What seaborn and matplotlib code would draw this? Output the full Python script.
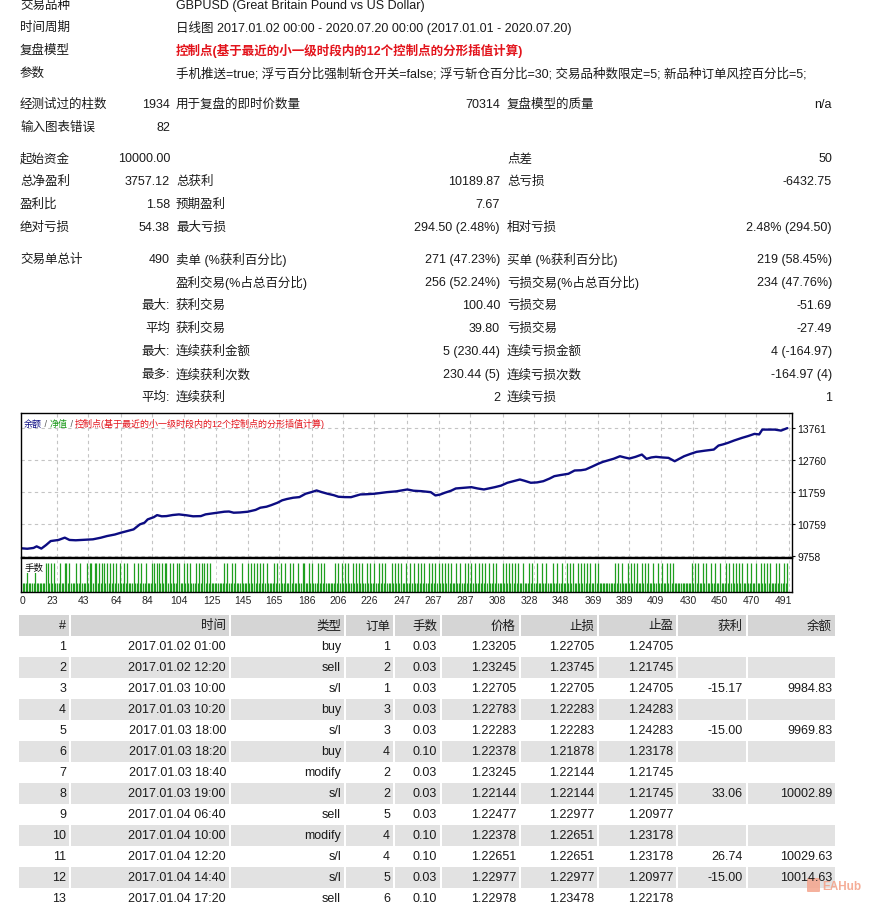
import matplotlib
matplotlib.use("Agg")
import matplotlib.pyplot as plt
import matplotlib.transforms as mtransforms
from matplotlib.patches import Rectangle, FancyBboxPatch
import seaborn as sns

# ---- report header ----
info_labels = ['交易品种', '时间周期', '复盘模型', '参数']
info_values = [
    'GBPUSD (Great Britain Pound vs US Dollar)',
    '日线图 2017.01.02 00:00 - 2020.07.20 00:00 (2017.01.01 - 2020.07.20)',
    '控制点(基于最近的小一级时段内的12个控制点的分形插值计算)',
    '手机推送=true; 浮亏百分比强制斩仓开关=false; 浮亏斩仓百分比=30; 交易品种数限定=5; 新品种订单风控百分比=5;',
]

# ---- summary statistics (label, value, label, value, label, value) ----
stat_rows = [
    ('经测试过的柱数', '1934', '用于复盘的即时价数量', '70314', '复盘模型的质量', 'n/a'),
    ('输入图表错误', '82', '', '', '', ''),
    ('起始资金', '10000.00', '', '', '点差', '50'),
    ('总净盈利', '3757.12', '总获利', '10189.87', '总亏损', '-6432.75'),
    ('盈利比', '1.58', '预期盈利', '7.67', '', ''),
    ('绝对亏损', '54.38', '最大亏损', '294.50 (2.48%)', '相对亏损', '2.48% (294.50)'),
    ('交易单总计', '490', '卖单 (%获利百分比)', '271 (47.23%)', '买单 (%获利百分比)', '219 (58.45%)'),
    ('', '', '盈利交易(%占总百分比)', '256 (52.24%)', '亏损交易(%占总百分比)', '234 (47.76%)'),
    ('', '最大:', '获利交易', '100.40', '亏损交易', '-51.69'),
    ('', '平均', '获利交易', '39.80', '亏损交易', '-27.49'),
    ('', '最大:', '连续获利金额', '5 (230.44)', '连续亏损金额', '4 (-164.97)'),
    ('', '最多:', '连续获利次数', '230.44 (5)', '连续亏损次数', '-164.97 (4)'),
    ('', '平均:', '连续获利', '2', '连续亏损', '1'),
]

# ---- balance curve (trade number, balance) ----
trade_no = [0, 4, 8, 10, 13, 16, 19, 24, 28, 31, 35, 40, 46, 51, 55, 60, 64, 68,
            72, 76, 79, 81, 85, 87, 90, 93, 97, 101, 106, 110, 115, 118, 121, 125,
            130, 133, 136, 140, 145, 150, 153, 157, 160, 164, 167, 170, 174, 178,
            182, 186, 189, 192, 196, 200, 203, 207, 211, 214, 217, 221, 226, 230,
            234, 240, 247, 251, 256, 262, 265, 268, 271, 275, 278, 283, 288, 292,
            296, 299, 303, 307, 311, 315, 319, 322, 326, 330, 334, 338, 341, 345,
            350, 354, 358, 361, 365, 369, 372, 375, 379, 383, 386, 389, 393, 397,
            400, 403, 406, 410, 414, 418, 421, 424, 428, 432, 437, 443, 446, 449,
            452, 456, 461, 465, 469, 472, 474, 478, 482, 486, 490]
balance = [10000, 9985, 10010, 10060, 9990, 10100, 10226, 10260, 10332, 10260,
           10250, 10265, 10280, 10330, 10382, 10430, 10488, 10540, 10591, 10747,
           10800, 10903, 10975, 11037, 11000, 11006, 11040, 11059, 11030, 11000,
           11006, 11060, 11081, 11110, 11143, 11150, 11112, 11120, 11143, 11200,
           11268, 11300, 11349, 11424, 11500, 11540, 11580, 11600, 11705, 11760,
           11808, 11760, 11705, 11660, 11611, 11600, 11598, 11640, 11683, 11690,
           11705, 11730, 11755, 11780, 11839, 11800, 11786, 11755, 11652, 11680,
           11736, 11800, 11870, 11890, 11911, 11870, 11839, 11870, 11911, 11960,
           12048, 12100, 12151, 12110, 12048, 12060, 12098, 12180, 12254, 12290,
           12329, 12432, 12440, 12463, 12550, 12641, 12700, 12744, 12800, 12878,
           12840, 12806, 12860, 12931, 12796, 12840, 12859, 12840, 12827, 12722,
           12800, 12878, 12950, 13015, 13050, 13087, 13212, 13250, 13296, 13370,
           13452, 13510, 13577, 13560, 13711, 13711, 13711, 13680, 13757]

# trades opened with 0.10 lots (others 0.03)
total_trades = 490
big_lot_trades = [4, 9, 16, 17, 19, 21, 25, 28, 29, 31, 35, 38, 42, 44, 45, 47, 48, 50,
                  52, 53, 55, 57, 59, 61, 63, 66, 68, 72, 75, 77, 80, 84, 85, 87, 88,
                  90, 92, 93, 95, 97, 100, 101, 104, 106, 108, 112, 114, 116, 117, 119,
                  121, 130, 132, 135, 137, 141, 145, 147, 149, 151, 153, 155, 157, 162,
                  164, 166, 169, 172, 174, 177, 180, 181, 184, 186, 190, 192, 194, 201,
                  203, 205, 207, 209, 212, 214, 216, 218, 221, 223, 226, 229, 231, 233,
                  237, 239, 241, 243, 246, 249, 251, 254, 256, 258, 261, 263, 265, 267,
                  269, 271, 273, 275, 278, 281, 284, 286, 288, 290, 293, 295, 297, 299,
                  302, 304, 308, 310, 312, 314, 316, 318, 321, 325, 327, 330, 333, 336,
                  340, 343, 346, 349, 351, 353, 356, 358, 360, 362, 364, 367, 369, 380,
                  382, 384, 388, 390, 392, 394, 397, 399, 401, 404, 407, 410, 413, 415,
                  417, 429, 431, 433, 436, 438, 441, 444, 447, 451, 453, 455, 457, 459,
                  461, 464, 467, 470, 473, 475, 477, 479, 483, 485, 488, 490]
small_lot, big_lot = 0.03, 0.10

x_tick_labels = [0, 23, 43, 64, 84, 104, 125, 145, 165, 186, 206, 226, 247, 267,
                 287, 308, 328, 348, 369, 389, 409, 430, 450, 470, 491]
y_tick_labels = [9758, 10759, 11759, 12760, 13761]

# ---- trade table ----
table_cols = ['#', '时间', '类型', '订单', '手数', '价格', '止损', '止盈', '获利', '余额']
table_rows = [
    ['1', '2017.01.02 01:00', 'buy', '1', '0.03', '1.23205', '1.22705', '1.24705', '', ''],
    ['2', '2017.01.02 12:20', 'sell', '2', '0.03', '1.23245', '1.23745', '1.21745', '', ''],
    ['3', '2017.01.03 10:00', 's/l', '1', '0.03', '1.22705', '1.22705', '1.24705', '-15.17', '9984.83'],
    ['4', '2017.01.03 10:20', 'buy', '3', '0.03', '1.22783', '1.22283', '1.24283', '', ''],
    ['5', '2017.01.03 18:00', 's/l', '3', '0.03', '1.22283', '1.22283', '1.24283', '-15.00', '9969.83'],
    ['6', '2017.01.03 18:20', 'buy', '4', '0.10', '1.22378', '1.21878', '1.23178', '', ''],
    ['7', '2017.01.03 18:40', 'modify', '2', '0.03', '1.23245', '1.22144', '1.21745', '', ''],
    ['8', '2017.01.03 19:00', 's/l', '2', '0.03', '1.22144', '1.22144', '1.21745', '33.06', '10002.89'],
    ['9', '2017.01.04 06:40', 'sell', '5', '0.03', '1.22477', '1.22977', '1.20977', '', ''],
    ['10', '2017.01.04 10:00', 'modify', '4', '0.10', '1.22378', '1.22651', '1.23178', '', ''],
    ['11', '2017.01.04 12:20', 's/l', '4', '0.10', '1.22651', '1.22651', '1.23178', '26.74', '10029.63'],
    ['12', '2017.01.04 14:40', 's/l', '5', '0.03', '1.22977', '1.22977', '1.20977', '-15.00', '10014.63'],
    ['13', '2017.01.04 17:20', 'sell', '6', '0.10', '1.22978', '1.23478', '1.22178', '', ''],
]

sns.set_style("white")
plt.rcParams['font.family'] = ['Liberation Sans', 'Noto Sans CJK SC', 'DejaVu Sans']
W, H = 874, 903
fig = plt.figure(figsize=(W / 100, H / 100), dpi=100)

# background axes in pixel coordinates
bg = fig.add_axes([0, 0, 1, 1])
bg.set_xlim(0, W)
bg.set_ylim(H, 0)
bg.axis('off')
FS = 9
TXT = '#1a1a1a'

info_y = [6, 28, 51, 74]
for y, lab, val in zip(info_y, info_labels, info_values):
    bg.text(20, y, lab, fontsize=FS, va='center', color=TXT)
    if lab == '复盘模型':
        bg.text(176, y, val, fontsize=FS, va='center', color='#e3141c', fontweight='bold')
    else:
        bg.text(176, y, val, fontsize=FS, va='center', color=TXT)

stat_y = [105, 128, 159, 182, 205, 228, 260, 283, 306, 329, 352, 375, 398]
for y, row in zip(stat_y, stat_rows):
    l1, v1, l2, v2, l3, v3 = row
    bg.text(20, y, l1, fontsize=FS, va='center', color=TXT)
    bg.text(170, y, v1, fontsize=FS, va='center', ha='right', color=TXT)
    bg.text(176, y, l2, fontsize=FS, va='center', color=TXT)
    bg.text(500, y, v2, fontsize=FS, va='center', ha='right', color=TXT)
    bg.text(507, y, l3, fontsize=FS, va='center', color=TXT)
    bg.text(832, y, v3, fontsize=FS, va='center', ha='right', color=TXT)

# table
col_edges = [18, 70, 230, 345, 394, 441, 520, 598, 677, 747, 836]
row_h = 21
top = 616
for r in range(len(table_rows) + 1):
    y0 = top + r * row_h
    if r == 0:
        cells, shade = table_cols, '#d5d5d5'
    else:
        cells, shade = table_rows[r - 1], ('#e2e2e2' if r % 2 == 0 else None)
    for c, txt in enumerate(cells):
        left, right = col_edges[c], col_edges[c + 1]
        if shade:
            bg.add_patch(Rectangle((left + 1, y0), right - left - 2, row_h,
                                   facecolor=shade, edgecolor='none'))
        bg.text(right - 4, y0 + row_h / 2, txt, fontsize=FS, va='center',
                ha='right', color=TXT)

# watermark
bg.add_patch(FancyBboxPatch((808, 880), 11, 12, boxstyle='round,pad=1',
                            facecolor='#f4a48c', edgecolor='none', alpha=0.85))
bg.text(822, 887, 'EAHub', fontsize=8.5, va='center', color='#f4a48c',
        fontweight='bold', alpha=0.9)

# ---- balance chart ----
ax = fig.add_axes([21 / W, 1 - 558 / H, 771 / W, 144 / H])
sns.lineplot(x=trade_no, y=balance, ax=ax, color='#0c0c82', linewidth=1.7)
ax.set_xlim(0, 493)
ax.set_ylim(9727, 14230)
ax.yaxis.tick_right()
ax.set_yticks(y_tick_labels)
ax.set_yticklabels([str(v) for v in y_tick_labels], fontsize=7.5)
ax.tick_params(axis='y', length=2, pad=2, colors='#111111')
ax.set_xticks(x_tick_labels[1:])
ax.set_xticklabels([])
ax.tick_params(axis='x', length=0)
ax.grid(True, color='#c4c4c4', linestyle=(0, (3, 3)), linewidth=0.8)
ax.set_xlabel('')
ax.set_ylabel('')
for s in ax.spines.values():
    s.set_color('black')
    s.set_linewidth(1.0)

# legend line inside chart
t = ax.text(0.004, 0.93, '余额', transform=ax.transAxes, fontsize=6.5,
            color='#0c0c82', va='center')
parts = [(' / ', '#555555'), ('净值', '#1a9a1a'), (' / ', '#555555'),
         ('控制点(基于最近的小一级时段内的12个控制点的分形插值计算)', '#e3141c')]
for s, c in parts:
    t = ax.annotate(s, xy=(1, 0), xycoords=t, va='bottom', fontsize=6.5, color=c)

# ---- lots panel ----
ax2 = fig.add_axes([21 / W, 1 - 593 / H, 771 / W, 34 / H])
trades = list(range(1, total_trades + 1))
big_set = set(big_lot_trades)
lots = [big_lot if i in big_set else small_lot for i in trades]
ax2.vlines(trades, 0, lots, color='#1f9f1f', linewidth=0.9)
ax2.set_xlim(0, 493)
ax2.set_ylim(0, 0.117)
ax2.set_yticks([])
ax2.set_xticks(x_tick_labels)
ax2.set_xticklabels([str(v) for v in x_tick_labels], fontsize=7.5)
ax2.tick_params(axis='x', length=0, pad=2)
ax2.grid(True, axis='x', color='#d0d0d0', linestyle=(0, (3, 3)), linewidth=0.7)
for s in ax2.spines.values():
    s.set_color('black')
    s.set_linewidth(1.0)
shift_left = mtransforms.ScaledTranslation(-0.05, 0, fig.dpi_scale_trans)
shift_right = mtransforms.ScaledTranslation(0.02, 0, fig.dpi_scale_trans)
for k, lab in enumerate(ax2.get_xticklabels()):
    lab.set_transform(lab.get_transform() + (shift_right if k == 0 else shift_left))
ax2.text(0.004, 0.72, '手数', transform=ax2.transAxes, fontsize=6.8, va='center',
         color='#111111', bbox=dict(facecolor='white', edgecolor='none', pad=0.5))

fig.savefig('out.png', dpi=100)
